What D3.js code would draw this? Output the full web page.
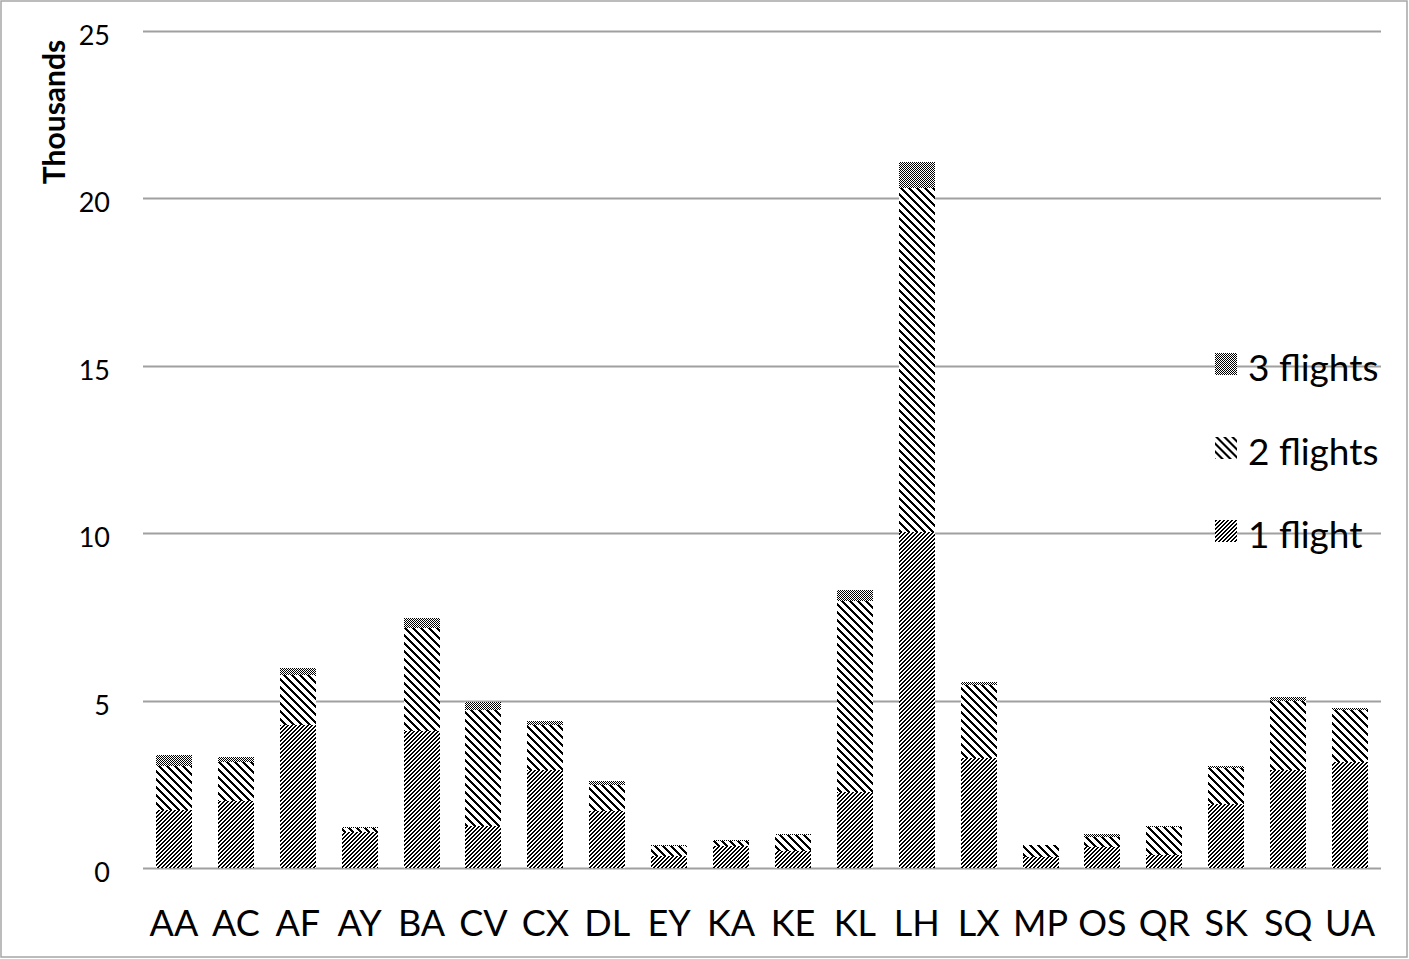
<!DOCTYPE html>
<html>
<head>
<meta charset="utf-8">
<script src="https://cdn.jsdelivr.net/npm/d3@7"></script>
<style>
  body { margin: 0; background: #fff; }
  svg { display: block; }
</style>
</head>
<body>
<script>
// carriers and passengers (thousands) per number of flights
const carriers = ["AA", "AC", "AF", "AY", "BA", "CV", "CX", "DL", "EY", "KA",
  "KE", "KL", "LH", "LX", "MP", "OS", "QR", "SK", "SQ", "UA"];
const oneFlight = [1.73, 2.0, 4.27, 1.07, 4.10, 1.25, 2.93, 1.70, 0.36, 0.66,
  0.52, 2.28, 10.04, 3.30, 0.34, 0.64, 0.39, 1.91, 2.93, 3.18];
const twoFlights = [1.33, 1.18, 1.49, 0.13, 3.08, 3.47, 1.33, 0.78, 0.29, 0.16,
  0.47, 5.69, 10.26, 2.17, 0.35, 0.28, 0.84, 1.07, 2.06, 1.54];
const threeFlights = [0.31, 0.13, 0.21, 0.02, 0.29, 0.25, 0.13, 0.12, 0.04, 0.02,
  0.02, 0.33, 0.80, 0.09, 0.01, 0.09, 0.03, 0.07, 0.12, 0.06];
const yTicks = [0, 5, 10, 15, 20, 25];
const seriesNames = ["1 flight", "2 flights", "3 flights"];

const width = 1409, height = 959;
const font = "Lato, 'Open Sans', sans-serif";

const svg = d3.select("body").append("svg")
  .attr("width", width)
  .attr("height", height)
  .attr("font-family", font);

// excel style bitmap fills, 8x8
const defs = svg.append("defs");
const bitmaps = {
  p1: (x, y) => (x + y) % 4 < 2,            // dark upward diagonal
  p2: (x, y) => ((x - y) % 8 + 8) % 8 < 3,  // wide downward diagonal
  p3: (x, y) => (x + y) % 2 === 0           // 50%
};
Object.keys(bitmaps).forEach(id => {
  const pat = defs.append("pattern")
    .attr("id", id)
    .attr("patternUnits", "userSpaceOnUse")
    .attr("width", 8).attr("height", 8);
  pat.append("rect").attr("width", 8).attr("height", 8).attr("fill", "#fff");
  const px = [];
  for (let y = 0; y < 8; y++) for (let x = 0; x < 8; x++) if (bitmaps[id](x, y)) px.push([x, y]);
  pat.selectAll("rect.px").data(px).join("rect")
    .attr("class", "px")
    .attr("x", d => d[0]).attr("y", d => d[1])
    .attr("width", 1).attr("height", 1)
    .attr("fill", "#000")
    .attr("shape-rendering", "crispEdges");
});
const fills = ["url(#p1)", "url(#p2)", "url(#p3)"];

// chart frame
svg.append("rect")
  .attr("x", 1).attr("y", 1)
  .attr("width", width - 3).attr("height", height - 3)
  .attr("fill", "none")
  .attr("stroke", "#a6a6a6")
  .attr("stroke-width", 1.5);

const x = d3.scaleBand()
  .domain(carriers)
  .range([143, 1381])
  .paddingInner(0.42)
  .paddingOuter(0.21);

const y = d3.scaleLinear()
  .domain([0, 25])
  .range([868, 31]);

// gridlines
svg.append("g")
  .selectAll("line")
  .data(yTicks)
  .join("line")
  .attr("x1", 143).attr("x2", 1381)
  .attr("y1", d => Math.round(y(d)) + 0.5)
  .attr("y2", d => Math.round(y(d)) + 0.5)
  .attr("stroke", "#a0a0a0")
  .attr("stroke-width", 2);

// y tick labels
svg.append("g")
  .selectAll("text")
  .data(yTicks)
  .join("text")
  .attr("x", 110)
  .attr("y", d => y(d) + 14)
  .attr("text-anchor", "end")
  .attr("font-size", 27)
  .text(d => d);

svg.append("text")
  .attr("transform", "translate(65,112) rotate(-90)")
  .attr("text-anchor", "middle")
  .attr("font-size", 30)
  .attr("font-weight", "bold")
  .text("Thousands");

// stacked bars
const table = carriers.map((c, i) => ({
  carrier: c, s0: oneFlight[i], s1: twoFlights[i], s2: threeFlights[i]
}));
const stack = d3.stack().keys(["s0", "s1", "s2"])(table);

svg.append("g")
  .selectAll("g")
  .data(stack)
  .join("g")
  .attr("fill", (d, i) => fills[i])
  .selectAll("rect")
  .data(d => d)
  .join("rect")
  .attr("x", d => Math.round(x(d.data.carrier)))
  .attr("width", Math.round(x.bandwidth()))
  .attr("y", d => Math.round(y(d[1])))
  .attr("height", d => Math.round(y(d[0])) - Math.round(y(d[1])))
  .attr("shape-rendering", "crispEdges");

// x labels
svg.append("g")
  .selectAll("text")
  .data(carriers)
  .join("text")
  .attr("x", d => x(d) + x.bandwidth() / 2)
  .attr("y", 936)
  .attr("text-anchor", "middle")
  .attr("font-size", 36)
  .text(d => d);

// legend
const legend = svg.append("g")
  .selectAll("g")
  .data([2, 1, 0])
  .join("g")
  .attr("transform", (d, i) => `translate(1215,${353 + i * 83.5})`);

legend.append("rect")
  .attr("width", 22).attr("height", 22)
  .attr("fill", d => fills[d])
  .attr("shape-rendering", "crispEdges");

legend.append("text")
  .attr("x", 33)
  .attr("y", 28)
  .attr("font-size", 37)
  .text(d => seriesNames[d]);
</script>
</body>
</html>
